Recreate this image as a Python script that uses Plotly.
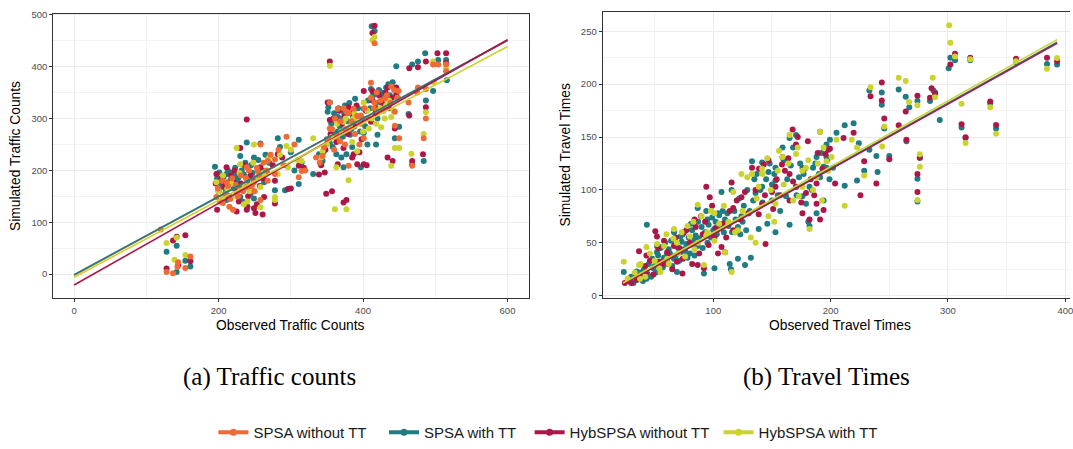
import plotly.graph_objects as go

# ---------------- data ----------------
series_names = ["SPSA without TT", "SPSA with TT", "HybSPSA without TT", "HybSPSA with TT"]
series_colors = ["#F06A35", "#1F7C82", "#AD1747", "#CBD42F"]

# Panel (a): traffic counts  (observed x, simulated y)
tc_orange_x = [120,128,137,144,154,161,143,197,211,225,239,239,254,268,278,294,315,311,258,230,249,258,206,220,278,268,
               354,354,365,377,387,401,411,416,430,439,449,444,444,450,416,380,368,344,335,397,420,
               468,463,484,487,497,504,515,515,487,476,475,
               199,202,205,209,213,216,219,224,227,231,234,238,242,246,250,253,256,262,266,272,283,290,305,320,215,
               340,346,352,357,361,364,369,373,376,380,384,389,392,397,402,406,411,415,419,424,428,433,438,443,448,360,375,395]
tc_orange_y = [86,4,2,23,12,34,14,149,177,155,206,168,199,218,221,265,199,187,250,162,177,143,137,124,193,180,
               331,281,319,313,319,262,369,331,338,362,353,313,286,262,445,209,256,228,225,306,313,
               209,331,262,300,404,404,404,391,357,360,350,
               165,140,180,155,170,145,185,172,150,190,160,185,200,170,160,205,190,215,200,230,240,210,250,200,130,
               215,245,260,280,300,265,295,320,280,310,295,270,305,290,320,300,340,320,350,335,315,345,330,355,340,240,250,250]
tc_teal_x = [128,142,142,161,154,195,201,211,225,239,230,249,258,282,311,315,292,278,263,311,244,225,206,211,230,249,
             354,354,352,365,375,389,401,420,425,435,446,444,450,444,406,418,373,377,363,344,331,339,397,365,382,401,420,351,411,412,416,
             468,476,486,487,484,468,463,497,504,516,515,
             198,203,207,210,213,216,218,221,223,227,229,232,235,237,240,242,245,247,252,255,260,265,270,285,300,305,215,233,
             345,350,356,358,360,362,366,368,370,372,374,378,381,384,386,390,393,396,399,403,407,410,414,418,422,427,432,437,441,447,370,385]
tc_teal_y = [43,55,4,15,26,207,196,193,190,254,228,225,252,262,259,215,162,162,177,174,155,177,168,143,149,146,
             253,331,322,303,325,338,319,300,350,366,401,357,284,262,250,250,206,231,231,218,193,231,206,275,269,272,269,313,357,478,469,
             404,410,426,335,218,212,309,353,413,374,413,
             185,175,188,160,200,180,195,165,205,185,170,200,192,215,180,165,210,195,185,220,200,230,215,245,235,200,150,140,
             235,260,290,245,310,270,320,285,300,265,310,295,330,280,305,290,320,275,300,285,335,320,345,330,355,340,360,345,370,355,225,245]
tc_red_x = [128,137,142,154,161,144,197,198,230,239,225,239,249,251,261,263,278,278,296,282,311,211,220,258,249,
            354,351,354,368,380,392,413,420,434,446,444,434,441,377,373,349,357,392,401,339,373,387,411,401,347,365,430,413,416,
            464,476,487,483,487,464,498,503,515,515,468,
            196,200,204,208,212,217,222,226,231,236,241,244,248,253,257,262,267,275,288,300,318,205,228,240,
            342,348,355,359,363,367,371,375,379,383,388,391,395,398,404,409,413,417,422,426,431,436,440,446,385,395,405]
tc_red_y = [11,65,72,75,25,17,193,124,243,298,121,124,127,118,115,149,180,136,164,231,209,206,180,206,180,
            410,331,297,294,322,300,353,319,360,347,281,225,218,143,138,155,160,212,212,192,243,231,294,353,196,212,325,465,479,
            397,399,410,231,322,306,405,426,426,407,218,
            175,160,185,170,150,190,200,160,175,210,150,190,160,135,170,185,195,210,225,165,205,140,140,130,
            210,240,270,300,255,315,290,305,270,310,285,325,300,260,315,300,335,310,345,330,350,320,340,360,225,235,210]
tc_yellow_x = [128,139,154,142,197,225,249,258,235,278,278,294,282,315,206,230,258,296,
               354,413,416,377,361,380,344,331,363,392,408,425,439,444,450,439,401,373,387,432,
               467,484,487,498,515,497,
               200,206,212,218,224,229,236,243,248,255,262,270,285,300,310,240,
               342,350,357,364,370,376,382,388,394,400,406,412,418,424,430,436,442,448,385]
tc_yellow_y = [60,28,37,70,177,243,250,129,135,149,143,247,193,218,149,212,168,206,
               402,451,457,125,125,181,237,262,206,237,281,283,209,243,243,303,331,294,300,325,
               232,270,312,370,397,410,
               160,190,165,175,150,195,170,160,215,185,195,225,230,240,220,140,
               225,250,265,290,275,300,285,310,295,275,315,300,290,320,300,335,315,340,255]

# Linear fits drawn over the observed range, per series (intercept, slope)
tc_fit_x_range = [0, 600]
tc_fit_intercept = [-2, -1, -21, -6]
tc_fit_slope = [0.754, 0.7533, 0.7883, 0.7417]

# Panel (b): travel times (observed x, simulated y)
tt_teal_x = [23.7,34.7,43.4,52,52,56,60.7,66.5,72,78,69,75,84,86.7,95,92,101,107,37.6,49,60.7,78,86.7,95,55,43,66.5,72,84,101,104,
             115.6,124,127,133,136,141.6,138.7,147,150,153,153,159,162,165,170.5,173,176,179,182,185,188,191,196.5,196.5,188,194,176,165,130,121,118.5,141.6,153,170.5,182,196.5,
             199.4,202,205,212,212,219.6,224,233,233,239,243.6,243.6,245.7,250,258,264,264.6,267,274,274,274,276,284.7,287.6,289,293,300.6,302,306,311.6,315,319,336,341,358,384.4,393,228.6,222.5,240,
             28,30,32,33,35,38,40,41,44,45,47,48,50,51,53,54,55,57,58,59,61,62,63,64,65,67,68,70,71,73,74,76,77,79,80,81,82,83,85,87,88,90,91,93,94,96,98,99,100,102,103,105,106,108,109,110,112,113,114,115,116,118,119,121,122,123,125,126,128,129,131,132,134,135,
             137,140,142,145,146,148,150,152,155,157,160,163,166,168,171,174,177,181,184,187,190,192,194,197,199]
tt_teal_y = [22.5,23,67,47,41,46,32,60,56,63,22.5,44,53,83,72,21,26,98,18,26,39.5,36,47,50,29,16,35,41,38,63,78,
             100,75,29,127,97,126,63,117,90,60,121,140,94,67,152,112,121,87,103,121,131,112,143,131,78,90,94,149,78,35,60,103,109,103,66,121,
             147.5,121,154,104,161,163,144,194,138,132,192,180.5,158,132,195,188,146,178,89,110.5,184,130.5,184,194,192,166,215,225,222.5,159,149,222.5,182,158,220.7,219,218.5,118,109,117,
             14,18,12,20,15,22,14,25,20,30,18,35,28,22,38,32,45,27,36,50,30,44,40,52,28,48,38,45,33,51,58,42,49,55,40,68,62,48,57,70,54,65,45,60,80,67,55,74,62,70,58,76,65,80,60,72,78,66,30,25,60,80,72,65,92,58,70,85,62,100,80,36,90,110,
             115,100,88,110,68,125,105,115,95,80,128,110,123,140,95,125,115,70,100,125,115,135,122,128,110]
tt_red_x = [24.6,36.7,43,50.6,52,60.7,66.5,75,73.7,86.7,92,94,97,107,115.6,89.6,84,43,34.7,55,101,110,69,
            117,124,133,138.7,143,144.5,150,158.5,159,165,167.6,170.5,176,179,180.6,182,188,191,194,195.6,191,165,153,141.6,170.5,188,
            199.4,203.8,211,219.6,225.4,228.6,234,239,243.6,243.6,245.7,250,258,264,264.6,274,274,274,276,284.7,286,289,302,306,311.6,315,319,336,341,358,384.4,393,
            30,34,39,42,46,49,53,57,58,62,65,68,71,74,77,80,82,85,88,91,93,96,99,102,104,108,111,114,117,120,123,127,130,
            136,139,144,147,151,154,157,161,164,168,172,175,178,183,186,189,193,198]
tt_red_y = [12,42,38,61,56,41,47,60,21,29,26,103,93,46,107,75,72,22.5,15,32,55,41,32,
            83,93,121,77,124,49,98,124,131,115,157,103,78,97,146,72,106,155,81,134,72,90,103,87,143,87,
            139,106,149,154,95,127,188.6,106,201.5,184.6,167.6,129,161,174,147.5,98,115,189,130.5,187,196,191,218.5,228.7,162,149.7,225,183.6,161.4,224,225,221.6,
            12,20,17,28,33,20,45,30,52,37,25,55,45,35,62,50,30,65,40,58,70,48,85,64,40,68,55,80,62,90,72,98,78,
            100,120,95,128,82,110,95,118,130,108,150,88,120,110,95,135,120,138]
tt_yellow_x = [23.7,36.7,43,52,60,69,78,86.7,92,101,110,115.6,66.5,37.6,55,60.7,84,95,
               118.5,124,133,138.7,141.6,153,159,165,170.5,173,179,182,191,192.6,196.5,147,156,176,188,136,
               200.8,205,212,218,222.5,228.6,234,244,245.7,258,264,266.8,274,276,274,276,287,289,301,302,306,311.6,315,319,336,341,358,384.4,393,
               27,33,38,42,46,50,54,58,62,66,70,73,76,80,83,87,90,94,98,101,105,109,113,117,121,125,129,132,
               137,142,146,149,152,155,160,164,168,172,176,181,185,189,194,198]
tt_yellow_y = [32,29,46,49,58,50,66,86,29,78,41,22.5,63,16,22.5,35,44,60,
               60,115,115,103,120,87,131,152,134,94,121,63,155,90,127,75,137,103,112,50,
               131,147.5,85,147.5,140,113.6,197,141,160,206,203,183,90.4,133.6,180,122,206,187.6,255.6,239,226,181.5,144.4,223.5,178,153,221.6,214.5,224.7,
               16,22,30,18,40,33,26,47,30,54,40,60,37,56,70,50,75,57,80,52,68,85,70,98,62,80,112,55,
               92,115,130,100,70,118,105,125,90,140,118,128,100,125,140,118]

tt_fit_x_range = [23, 393]
tt_fit_intercept = [-3.2, -3.67, -2.3]
tt_fit_slope = [0.6176, 0.6162, 0.6216]

# tick values
tc_x_ticks = [0, 200, 400, 600]
tc_y_ticks = [0, 100, 200, 300, 400, 500]
tt_x_ticks = [100, 200, 300, 400]
tt_y_ticks = [0, 50, 100, 150, 200, 250]

# ---------------- figure ----------------
W, H = 1073, 449
fig = go.Figure()

def px_x(p):
    return p / W

def px_y(p):
    return (H - p) / H

MS = 6
# Panel (a) points
tc_points = [(tc_teal_x, tc_teal_y, 1), (tc_red_x, tc_red_y, 2), (tc_yellow_x, tc_yellow_y, 3), (tc_orange_x, tc_orange_y, 0)]
for xs, ys, ci in tc_points:
    fig.add_trace(go.Scatter(x=xs, y=ys, mode="markers", xaxis="x", yaxis="y",
                             marker=dict(size=MS, color=series_colors[ci], line=dict(width=0)),
                             showlegend=False, hoverinfo="skip"))
for ci in [0, 1, 2, 3]:
    xs = tc_fit_x_range
    ys = [tc_fit_intercept[ci] + tc_fit_slope[ci] * v for v in xs]
    fig.add_trace(go.Scatter(x=xs, y=ys, mode="lines", xaxis="x", yaxis="y",
                             line=dict(color=series_colors[ci], width=1.6),
                             showlegend=False, hoverinfo="skip"))

# Panel (b) points
tt_points = [(tt_teal_x, tt_teal_y, 1), (tt_red_x, tt_red_y, 2), (tt_yellow_x, tt_yellow_y, 3)]
for xs, ys, ci in tt_points:
    fig.add_trace(go.Scatter(x=xs, y=ys, mode="markers", xaxis="x2", yaxis="y2",
                             marker=dict(size=MS, color=series_colors[ci], line=dict(width=0)),
                             showlegend=False, hoverinfo="skip"))
for k, ci in enumerate([1, 2, 3]):
    xs = tt_fit_x_range
    ys = [tt_fit_intercept[k] + tt_fit_slope[k] * v for v in xs]
    fig.add_trace(go.Scatter(x=xs, y=ys, mode="lines", xaxis="x2", yaxis="y2",
                             line=dict(color=series_colors[ci], width=1.6),
                             showlegend=False, hoverinfo="skip"))

# Legend-only traces (names padded to mimic ggplot spacing)
NB = "\u00a0"
legend_pad = [NB * 3, NB * 2, NB * 1, ""]
for ci, name in enumerate(series_names):
    fig.add_trace(go.Scatter(x=[None], y=[None], mode="lines+markers", name=name + legend_pad[ci],
                             xaxis="x", yaxis="y",
                             line=dict(color=series_colors[ci], width=4),
                             marker=dict(color=series_colors[ci], size=7)))

tick_font = dict(family="Liberation Sans, Arial, sans-serif", size=9.5, color="#4D4D4D")
common_axis = dict(showgrid=True, gridcolor="#EBEBEB", gridwidth=1,
                   zeroline=False, showline=True, linecolor="#333333", linewidth=1,
                   ticks="outside", ticklen=3, tickcolor="#333333", tickwidth=1,
                   tickfont=tick_font, ticklabeloverflow="allow")
minor_style = dict(showgrid=True, gridcolor="#F3F3F3", gridwidth=0.8)

fig.update_layout(
    width=W, height=H,
    margin=dict(l=0, r=0, t=0, b=0),
    paper_bgcolor="white", plot_bgcolor="white",
    xaxis=dict(domain=[px_x(53.3), px_x(530.3)], range=[-29, 629.5], tickvals=tc_x_ticks,
               anchor="y", mirror=True, minor=dict(tickvals=[100, 300, 500], **minor_style), **common_axis),
    yaxis=dict(domain=[px_y(300.3), px_y(9.7)], range=[-46.5, 502.5], tickvals=tc_y_ticks,
               anchor="x", mirror=True, minor=dict(tickvals=[50, 150, 250, 350, 450], **minor_style), **common_axis),
    xaxis2=dict(domain=[px_x(604.3), 1.0], range=[5.67, 404.0], tickvals=tt_x_ticks,
                anchor="y2", mirror=True, minor=dict(tickvals=[50, 150, 250, 350], **minor_style), **common_axis),
    yaxis2=dict(domain=[px_y(300.3), px_y(8.3)], range=[-2.4, 268.0], tickvals=tt_y_ticks,
                anchor="x2", mirror=False, minor=dict(tickvals=[25, 75, 125, 175, 225], **minor_style), **common_axis),
    legend=dict(orientation="h", x=px_x(214), xanchor="left", y=px_y(437.3), yanchor="middle",
                font=dict(family="Liberation Sans, Arial, sans-serif", size=15, color="#1A1A1A"),
                bgcolor="rgba(0,0,0,0)", itemwidth=30, tracegroupgap=0),
    showlegend=True,
)

title_font = dict(family="Liberation Sans, Arial, sans-serif", size=13.8, color="#000000")
caption_font = dict(family="Liberation Serif, serif", size=25, color="#000000")
annotations = [
    dict(text="Observed Traffic Counts", x=px_x(291.8), y=px_y(328.3), xref="paper", yref="paper",
         showarrow=False, font=title_font, xanchor="center", yanchor="middle"),
    dict(text="Simulated Traffic Counts", x=px_x(16.2), y=px_y(155), xref="paper", yref="paper",
         showarrow=False, font=title_font, textangle=-90, xanchor="center", yanchor="middle"),
    dict(text="Observed Travel Times", x=px_x(842), y=px_y(328.3), xref="paper", yref="paper",
         showarrow=False, font=title_font, xanchor="center", yanchor="middle"),
    dict(text="Simulated Travel Times", x=px_x(567.2), y=px_y(154), xref="paper", yref="paper",
         showarrow=False, font=title_font, textangle=-90, xanchor="center", yanchor="middle"),
    dict(text="(a) Traffic counts", x=px_x(270), y=px_y(381), xref="paper", yref="paper",
         showarrow=False, font=caption_font, xanchor="center", yanchor="middle"),
    dict(text="(b) Travel Times", x=px_x(829), y=px_y(381), xref="paper", yref="paper",
         showarrow=False, font=caption_font, xanchor="center", yanchor="middle"),
]
fig.update_layout(annotations=annotations)

fig.write_html("out.html", config={"displayModeBar": False},
               post_script="document.body.style.margin='0px';document.body.style.padding='0px';")
